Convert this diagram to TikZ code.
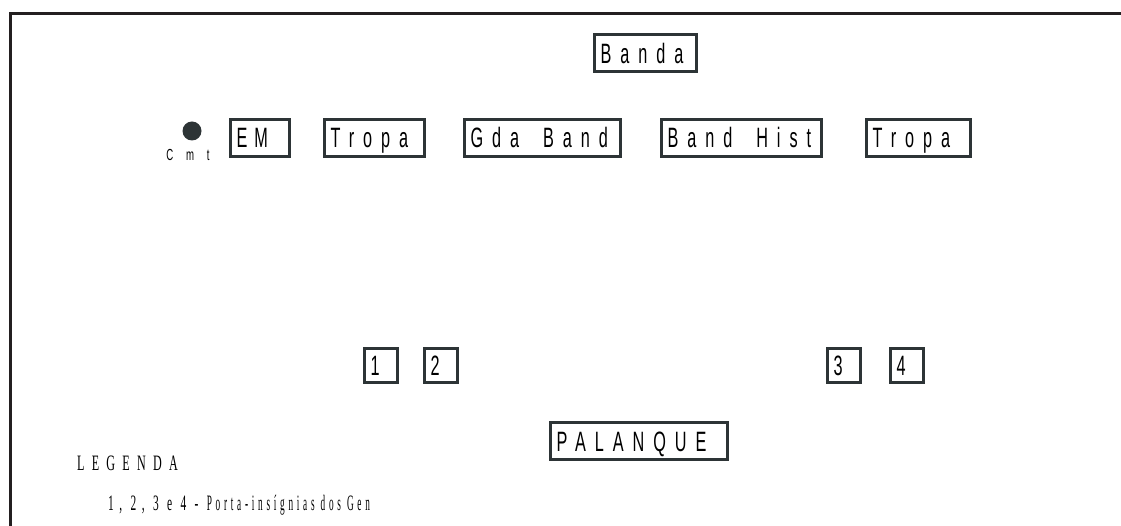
\documentclass[tikz,border=0pt]{standalone}
\usepackage{fontspec}
\newfontfamily\postofont[FakeStretch=0.58,LetterSpace=32]{Liberation Sans}
\newfontfamily\cmtfont[FakeStretch=0.6,LetterSpace=80]{Liberation Sans}
\newfontfamily\legfont[FakeStretch=0.52,LetterSpace=25]{Liberation Serif}
\newfontfamily\legtitfont[FakeStretch=0.55,LetterSpace=33]{Liberation Serif}
\definecolor{traco}{HTML}{2D3436}
\definecolor{moldura}{HTML}{231F20}
\newcommand{\vao}{\hspace*{24pt}}
\tikzset{
  posto/.style={draw=traco,line width=3pt,fill=white,minimum height=37pt,
    inner xsep=6pt,inner ysep=0pt,align=left,text height=20pt,text depth=0pt,
    font=\postofont\fontsize{28}{28}\selectfont},
  porta/.style={posto,minimum height=34pt},
  legenda/.style={anchor=west,inner sep=0pt,font=\legfont\fontsize{22}{22}\selectfont}
}
\begin{document}
\begin{tikzpicture}[x=1pt,y=-1pt]
  \useasboundingbox (0,0) rectangle (1121,526);
  % moldura
  \draw[moldura,line width=3pt] (10,526) -- (10,13.5) -- (1121,13.5);
  % linha da tropa
  \foreach \nm/\px/\py/\tw/\txt in {%
    banda/645.5/53.5/90/Banda,
    em/260/138/47/E\hspace*{7pt}M, tropaa/374.5/138/88/Tropa,
    gdaband/542.5/138/144/Gda\vao Band, bandhist/741.5/138/148/Band\vao Hist,
    tropab/918.5/138/92/Tropa,
    palanque/639/441/165/PALANQUE}
  {
    \node[posto,text width=\tw pt] (\nm) at (\px,\py) {\txt};
  }
  % porta-insignias
  \foreach \nm/\px/\txt in {pa/381/1, pb/441/2, pc/844/3, pd/907/4}
  {
    \node[porta,text width=21pt] (\nm) at (\px,365.5) {\txt};
  }
  \node[circle,fill=traco,minimum size=19pt,inner sep=0pt] (cmt) at (192,131) {};
  \node[inner sep=0pt,font=\cmtfont\fontsize{16}{16}\selectfont] (cmtlbl) at (188,155) {Cmt};
  \node[legenda,font=\legtitfont\fontsize{22}{22}\selectfont] (legtit) at (77,463) {LEGENDA};
  \node[legenda] (legtxt) at (108,505)
    {1, 2, 3 e 4 - {\addfontfeature{FakeStretch=0.42,LetterSpace=17}Porta-insígnias dos Gen}};
\end{tikzpicture}
\end{document}
